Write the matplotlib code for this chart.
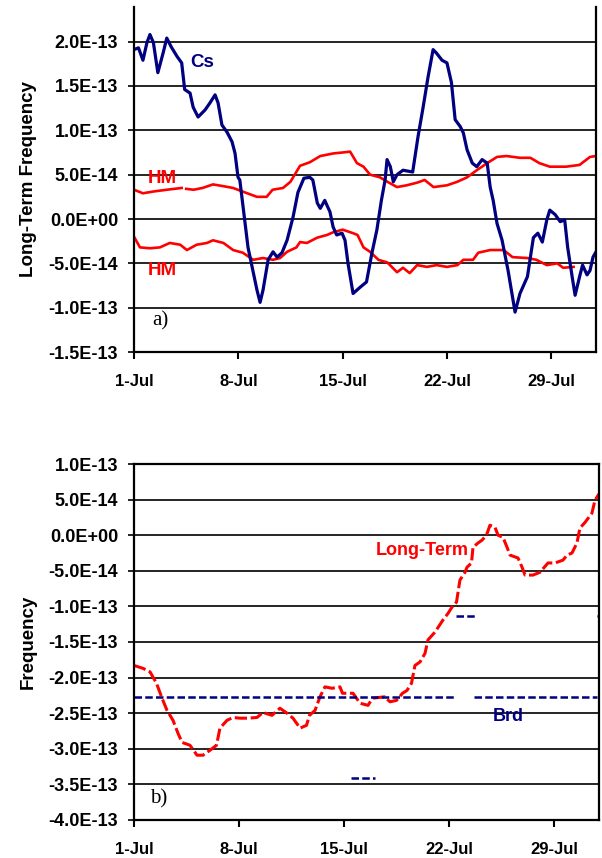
import numpy as np
import matplotlib
matplotlib.use('Agg')
from matplotlib import pyplot as plt

nan = np.nan

# top panel: days since 1-Jul, values in units of 1E-14
cs_day = [0, 0.3, 0.6, 0.87, 1.07, 1.3, 1.6, 1.95, 2.2, 2.5, 2.9, 3.2, 3.4, 3.76, 3.97, 4.3,
          4.77, 5.1, 5.44, 5.64, 5.9, 6.24, 6.58, 6.78, 6.98, 7.1, 7.65, 8.25, 8.46, 8.66, 9.0,
          9.33, 9.6, 9.93, 10.27, 10.67, 11.0, 11.4, 11.8, 12.0, 12.3, 12.5, 12.8, 13.15, 13.36,
          13.6, 13.96, 14.16, 14.36, 14.7, 15.17, 15.6, 15.97, 16.3, 16.6, 16.85, 16.98, 17.2,
          17.4, 17.65, 18.05, 18.7, 19.06, 19.4, 19.73, 20.07, 20.3, 20.67, 21.0, 21.3, 21.55,
          21.9, 22.1, 22.35, 22.7, 23.0, 23.36, 23.7, 23.9, 24.1, 24.36, 24.7, 25.1, 25.57, 25.9,
          26.4, 26.8, 27.1, 27.4, 27.7, 27.9, 28.26, 28.6, 28.9, 29.1, 29.4, 29.6, 29.9, 30.1,
          30.4, 30.6, 30.8, 31.0]
cs_val = [19.1, 19.3, 17.9, 19.9, 20.8, 19.9, 16.5, 18.7, 20.4, 19.4, 18.3, 17.6, 14.6, 14.2,
          12.6, 11.5, 12.3, 13.1, 14.0, 13.1, 10.6, 9.8, 8.7, 7.4, 4.7, 4.4, -3.2, -8.0, -9.4,
          -8.0, -4.6, -3.7, -4.3, -3.8, -2.4, 0.2, 3.0, 4.6, 4.7, 4.4, 1.8, 1.2, 2.1, 0.8, -0.9,
          -1.8, -1.6, -2.4, -5.0, -8.4, -7.7, -7.1, -3.8, -1.2, 2.1, 4.4, 6.7, 5.9, 4.2, 5.0, 5.5,
          5.3, 9.3, 12.6, 16.0, 19.1, 18.7, 17.9, 17.6, 15.4, 11.2, 10.4, 9.7, 7.8, 6.3, 5.9, 6.7,
          6.3, 3.6, 2.1, -0.5, -2.4, -5.8, -10.5, -8.4, -6.5, -2.1, -1.6, -2.6, -0.1, 1.0, 0.5,
          -0.3, -0.1, -3.2, -6.5, -8.6, -6.5, -5.2, -6.3, -5.8, -4.3, -3.7]

hm1_day = [0, 0.6, 1.3, 2.2, 3.2, 3.35, 3.5, 4.0, 4.6, 5.3, 6.0, 6.65, 7.6, 8.25, 8.9, 9.3, 10.0,
           10.5, 11.14, 11.8, 12.5, 13.4, 14.0, 14.5, 14.96, 15.4, 15.84, 16.5, 17.0, 17.65,
           18.3, 19.0, 19.5, 20.1, 21.0, 21.7, 22.35, 23.0, 23.7, 24.36, 25.0, 25.9, 26.6, 27.2,
           27.9, 29.0, 29.9, 30.6, 31.0]
hm1_val = [3.3, 2.9, 3.1, 3.3, 3.5, nan, 3.4, 3.3, 3.5, 3.9, 3.7, 3.5, 2.9, 2.5, 2.5, 3.3, 3.5,
           4.2, 6.0, 6.4, 7.1, 7.4, 7.5, 7.6, 6.3, 5.9, 5.0, 4.7, 4.2, 3.6, 3.8, 4.1, 4.4, 3.6,
           3.8, 4.2, 4.7, 5.5, 6.3, 7.0, 7.1, 6.9, 6.9, 6.3, 5.9, 5.9, 6.1, 7.0, 7.1]

hm2_day = [0, 0.4, 1.07, 1.74, 2.4, 3.1, 3.55, 4.2, 4.9, 5.3, 6.0, 6.65, 7.3, 8.0, 8.66, 9.33,
           9.8, 10.27, 10.9, 11.14, 11.6, 12.3, 12.95, 13.36, 14.0, 14.7, 15.0, 15.4, 15.84, 16.4,
           17.0, 17.65, 18.05, 18.5, 19.0, 19.66, 20.3, 21.0, 21.7, 22.1, 22.75, 23.1, 23.9,
           24.8, 25.4, 26.4, 27.0, 27.7, 28.4, 28.8, 29.5]
hm2_val = [-2.0, -3.2, -3.3, -3.2, -2.7, -2.9, -3.5, -2.9, -2.7, -2.4, -2.7, -3.5, -3.8, -4.6,
           -4.4, -4.6, -4.4, -3.7, -3.2, -2.6, -2.7, -2.1, -1.8, -1.5, -1.2, -1.6, -1.8, -3.2,
           -3.7, -4.6, -4.9, -6.0, -5.5, -6.1, -5.2, -5.4, -5.2, -5.4, -5.2, -4.6, -4.6, -3.8,
           -3.5, -3.5, -4.3, -4.4, -4.6, -5.2, -5.0, -5.5, -5.4]

# bottom panel
lt_day = [0, 0.6, 1.07, 1.5, 1.87, 2.2, 2.6, 2.93, 3.2, 3.73, 4.2, 4.6, 5.07, 5.5, 5.73, 6.2,
          6.6, 7.07, 7.6, 8.2, 8.6, 9.2, 9.73, 10.2, 10.6, 11.07, 11.5, 11.7, 12.07, 12.4,
          12.73, 13.2, 13.73, 13.9, 14.6, 15.07, 15.6, 15.9, 16.7, 17.07, 17.5, 17.9, 18.2,
          18.5, 18.73, 19.07, 19.4, 19.6, 20.07, 20.6, 20.93, 21.2, 21.5, 21.73, 22.07, 22.2,
          22.5, 22.6, 22.93, 23.2, 23.5, 23.73, 24.07, 24.27, 24.6, 24.87, 25.07, 25.6, 25.87,
          26.07, 26.6, 27.07, 27.6, 28.07, 28.6, 28.87, 29.2, 29.53, 29.73, 30.07, 30.53, 30.73,
          31.0]
lt_val = [-18.3, -18.7, -19.2, -20.8, -22.9, -24.6, -26.0, -27.8, -29.1, -29.5, -30.9, -30.9,
          -30.2, -29.5, -27.1, -26.0, -25.6, -25.7, -25.7, -25.6, -24.9, -25.3, -24.3, -25.0,
          -25.7, -27.1, -26.7, -25.3, -24.6, -22.7, -21.3, -21.5, -21.3, -22.2, -22.2, -23.6,
          -23.9, -22.9, -22.7, -23.4, -23.2, -22.2, -21.8, -20.8, -18.3, -17.8, -16.6, -14.7,
          -13.6, -11.9, -11.0, -10.1, -9.4, -6.3, -5.2, -4.5, -3.9, -1.7, -1.1, -0.7, 0.0, 1.4,
          1.1, 0.0, -0.3, -1.7, -2.8, -3.2, -4.5, -5.6, -5.6, -5.2, -3.9, -3.9, -3.5, -2.8, -2.5,
          -1.1, 1.0, 1.8, 3.1, 4.9, 5.8]

brd_day = [0, 21.4, nan, 21.5, 22.9, nan, 22.7, 30.9, nan, 30.9, 31.1, nan, 14.5, 16.1]
brd_val = [-22.7, -22.7, nan, -11.4, -11.4, nan, -22.7, -22.7, nan, -11.4, -11.4, nan, -34.1, -34.1]

x_ticks = [0, 7, 14, 21, 28]
x_labels = ['1-Jul', '8-Jul', '15-Jul', '22-Jul', '29-Jul']
top_ticks = [-15, -10, -5, 0, 5, 10, 15, 20]
top_labels = ['-1.5E-13', '-1.0E-13', '-5.0E-14', '0.0E+00', '5.0E-14', '1.0E-13', '1.5E-13', '2.0E-13']
bot_ticks = [-40, -35, -30, -25, -20, -15, -10, -5, 0, 5, 10]
bot_labels = ['-4.0E-13', '-3.5E-13', '-3.0E-13', '-2.5E-13', '-2.0E-13', '-1.5E-13',
              '-1.0E-13', '-5.0E-14', '0.0E+00', '5.0E-14', '1.0E-13']

scale = 1e-14
navy = '#000080'
red = '#FF0000'
plt.rcParams['font.family'] = ['Liberation Sans', 'DejaVu Sans']

fig = plt.figure(figsize=(6.02, 8.58), dpi=100)


def style_axes(ax, yticks, ylabels, ylabel):
    ax.set_xlim(0, 31.0)
    ax.set_xticks(x_ticks)
    ax.set_xticklabels(x_labels, fontsize=12, fontweight='bold')
    ax.set_yticks(np.array(yticks) * scale)
    ax.set_yticklabels(ylabels, fontsize=13, fontweight='bold')
    ax.yaxis.grid(True, color='black', linewidth=1.2)
    ax.set_axisbelow(True)
    ax.tick_params(axis='y', length=4.5, width=1.2, pad=7)
    ax.tick_params(axis='x', length=5, width=1.5, pad=11)
    for s in ['left', 'right', 'bottom']:
        ax.spines[s].set_linewidth(1.6)
    ax.set_ylabel(ylabel, fontsize=13.5, fontweight='bold')
    ax.yaxis.set_label_coords(-0.21, 0.5)


# a) long-term frequency
ax1 = fig.add_axes([0.2226, 0.5897, 0.7674, 0.4021])
ax1.plot(hm1_day, np.array(hm1_val) * scale, color=red, linewidth=1.9)
ax1.plot(hm2_day, np.array(hm2_val) * scale, color=red, linewidth=1.9)
ax1.plot(cs_day, np.array(cs_val) * scale, color=navy, linewidth=2.3)
ax1.set_ylim(-15 * scale, 23.9 * scale)
style_axes(ax1, top_ticks, top_labels, 'Long-Term Frequency')
ax1.spines['top'].set_visible(False)
ax1.text(3.76, 17.7 * scale, 'Cs', color=navy, fontsize=13.5, fontweight='bold', va='center')
ax1.text(0.94, 4.6 * scale, 'HM', color=red, fontsize=13.5, fontweight='bold', va='center')
ax1.text(0.94, -5.8 * scale, 'HM', color=red, fontsize=13.5, fontweight='bold', va='center')
ax1.text(1.2, -11.5 * scale, 'a)', fontsize=15, family='Liberation Serif', va='center')

# b) frequency
ax2 = fig.add_axes([0.2226, 0.0443, 0.7724, 0.4149])
ax2.plot(lt_day, np.array(lt_val) * scale, color=red, linewidth=2.2,
         dashes=(4, 1.2), dash_capstyle='butt')
ax2.plot(brd_day, np.array(brd_val) * scale, color=navy, linewidth=1.8,
         dashes=(3, 1.3), dash_capstyle='butt')
ax2.set_ylim(-40 * scale, 10 * scale)
style_axes(ax2, bot_ticks, bot_labels, 'Frequency')
ax2.spines['top'].set_linewidth(1.6)
ax2.text(16.1, -2.2 * scale, 'Long-Term', color=red, fontsize=13, fontweight='bold', va='center')
ax2.text(23.9, -25.4 * scale, 'Brd', color=navy, fontsize=13, fontweight='bold', va='center')
ax2.text(1.07, -37.1 * scale, 'b)', fontsize=15, family='Liberation Serif', va='center')

fig.savefig('out.png', dpi=100)
